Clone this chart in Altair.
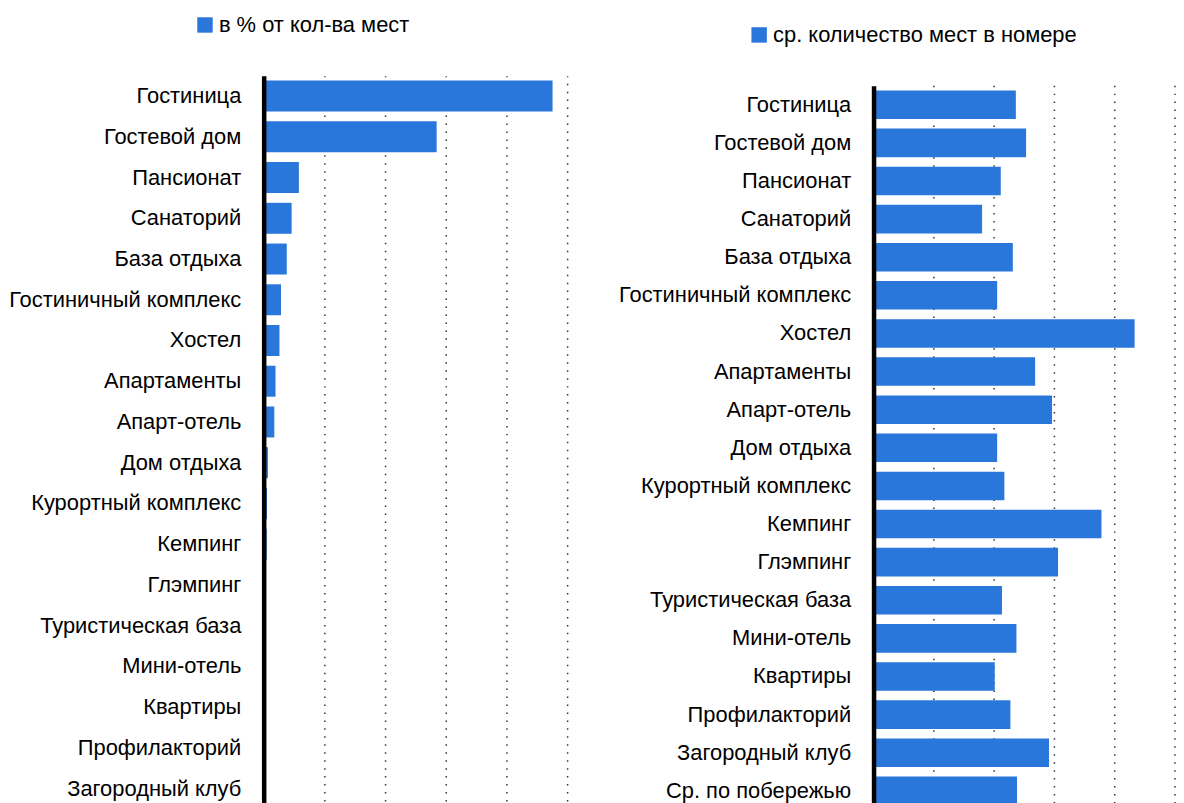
import altair as alt
import pandas as pd

cats_left = ["Гостиница", "Гостевой дом", "Пансионат", "Санаторий", "База отдыха",
             "Гостиничный комплекс", "Хостел", "Апартаменты", "Апарт-отель", "Дом отдыха",
             "Курортный комплекс", "Кемпинг", "Глэмпинг", "Туристическая база", "Мини-отель",
             "Квартиры", "Профилакторий", "Загородный клуб"]
share_pct = [47.6, 28.5, 5.8, 4.6, 3.8, 2.85, 2.6, 1.95, 1.75, 0.7,
             0.55, 0.5, 0.2, 0.15, 0.1, 0.1, 0.05, 0.05]

cats_right = cats_left + ["Ср. по побережью"]
avg_places = [2.36, 2.53, 2.11, 1.80, 2.31, 2.05, 4.33, 2.68, 2.96, 2.05,
              2.17, 3.78, 3.06, 2.13, 2.37, 2.01, 2.27, 2.91, 2.38]

grid_left = [10, 20, 30, 40, 50]
grid_right = [1, 2, 3, 4, 5]

series_left = "в % от кол-ва мест"
series_right = "ср. количество мест в номере"

BLUE = "#2A77DB"
FONT = "Liberation Sans"
FS = 22

df_left = pd.DataFrame({"cat": cats_left, "val": share_pct, "series": series_left})
df_right = pd.DataFrame({"cat": cats_right, "val": avg_places, "series": series_right})
df_grid_right = pd.DataFrame({"val": grid_right})

NOVIEW = alt.ViewBackground(stroke="transparent", strokeWidth=0)


def yaxis():
    return alt.Axis(title=None, labelFontSize=FS, labelFont=FONT, labelColor="black",
                    labelPadding=23, labelLimit=500, ticks=False, tickSize=0,
                    domainColor="black", domainWidth=4.5, zindex=1, grid=False)


def legend(lx, ly):
    return alt.Legend(title=None, orient="none", legendX=lx, legendY=ly, padding=0,
                      fillColor="white", strokeColor="transparent",
                      symbolType="square", symbolSize=240,
                      symbolStrokeWidth=0, labelFontSize=FS, labelFont=FONT,
                      labelColor="black", labelOffset=3, labelLimit=500)


left = alt.Chart(df_left).mark_bar().encode(
    y=alt.Y("cat:N", sort=cats_left, axis=yaxis(),
            scale=alt.Scale(paddingInner=0.24, paddingOuter=0.12)),
    x=alt.X("val:Q", scale=alt.Scale(domain=[0, 50], nice=False, zero=True),
            axis=alt.Axis(title=None, labels=False, ticks=False, domain=False, grid=True,
                          values=grid_left, gridDash=[1.5, 6.5], gridColor="#333333",
                          gridWidth=1.5)),
    color=alt.Color("series:N", scale=alt.Scale(domain=[series_left], range=[BLUE]),
                    legend=legend(-70, -62)),
).properties(width=305, height=737, view=NOVIEW)

RH = 738
right_grid = alt.Chart(df_grid_right).mark_rule(
    color="#333333", strokeWidth=1.5, strokeDash=[1.5, 6.5]
).encode(
    x=alt.X("val:Q", axis=None),
    y=alt.value(10),
    y2=alt.value(RH),
)

right_bars = alt.Chart(df_right).mark_bar().encode(
    y=alt.Y("cat:N", sort=cats_right, axis=yaxis(),
            scale=alt.Scale(paddingInner=0.25, paddingOuter=0.125, range=[10, RH])),
    x=alt.X("val:Q", scale=alt.Scale(domain=[0, 5], nice=False, zero=True), axis=None),
    color=alt.Color("series:N", scale=alt.Scale(domain=[series_right], range=[BLUE]),
                    legend=legend(-126, -52)),
)

right = alt.layer(right_grid, right_bars).properties(width=303, height=RH, view=NOVIEW)

chart = alt.hconcat(left, right, spacing=51).resolve_scale(
    color="independent", x="independent", y="independent"
).resolve_legend(color="independent").properties(
    padding={"top": 3, "left": 0, "right": 0, "bottom": 0}
).configure_view(stroke="transparent", strokeWidth=0).configure(background="white")

chart.save("out.html", embed_options={"renderer": "svg", "actions": False})
